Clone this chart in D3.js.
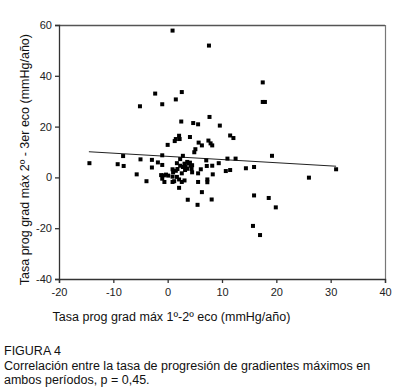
<!DOCTYPE html>
<html>
<head>
<meta charset="utf-8">
<script src="https://cdn.jsdelivr.net/npm/d3@7"></script>
<style>
  body { margin: 0; background: #fff; }
  svg text { font-family: Arial, "Liberation Sans", sans-serif; }
</style>
</head>
<body>
<svg id="chart" width="397" height="391"></svg>
<script>
// x: tasa 1º-2º eco, y: tasa 2º-3er eco (mmHg/año)
const xVals = [-14.4, -9.2, -8.1, -8.2, -5.7, -5.1, -5.0, -3.9, -2.3, -1.0, -2.9, -2.9, -1.8, -1.0, 0.0,
  -1.0, -1.2, -0.7, -0.3, 0.1, -1.0, -0.6, 0.9, 1.5, 2.6, 2.5, 4.7, 5.6, 7.7, 9.6, 11.5, 12.1, 2.1, 1.5,
  1.3, 2.2, 4.1, 5.7, 6.3, 7.5, 7.9, 8.2, 5.1, 4.9, 2.8, 2.3, 0.9, 1.7, 3.6, 3.9, 3.1, 4.2, 3.3, 2.8, 2.3,
  1.8, 1.5, 1.0, 3.2, 3.6, 4.4, 2.6, 0.9, 1.7, 2.1, 2.6, 1.2, 0.9, 2.1, 5.6, 5.6, 4.5, 4.1, 4.5, 7.2, 8.2,
  6.1, 7.1, 9.4, 10.7, 11.5, 11.0, 12.5, 14.4, 15.9, 8.3, 7.3, 7.3, 7.6, 17.5, 17.5, 17.9, 19.2, 31.0,
  26.0, 6.3, 8.1, 5.5, 3.7, 15.9, 18.6, 19.9, 15.7, 17.0, 3.1];
const yVals = [5.6, 5.2, 4.5, 8.4, 1.2, 28.0, 7.1, -1.5, 33.0, 28.8, 3.9, 6.9, 5.9, 8.7, 12.8, 4.9, 0.9,
  0.8, 1.1, 0.7, -0.5, -1.8, 57.8, 30.7, 33.6, 22.0, 21.4, 20.9, 23.8, 20.4, 16.5, 15.5, 16.4, 15.1, 14.3,
  15.1, 15.9, 13.7, 12.6, 14.5, 13.4, 12.6, 11.1, 9.9, 8.5, 7.2, 3.2, 5.6, 6.1, 5.6, 5.4, 4.6, 4.4, 4.1,
  4.6, 3.3, 2.6, 2.0, 2.9, 3.4, 3.3, 1.6, 0.3, 0.2, -0.8, -1.8, -1.5, -1.8, -4.1, -1.8, 1.6, 2.0, 5.8, 4.8,
  4.5, 4.6, 3.2, 6.7, 5.6, 2.5, 2.9, 7.4, 7.4, 3.6, 4.1, 1.2, -0.8, -1.9, 51.9, 37.4, 29.7, 29.7, 8.5, 3.2,
  -0.1, -5.8, -8.7, -10.8, -8.8, -7.1, -8.1, -11.8, -19.1, -22.7, -1.2];
const fitX = [-14.5, 31.0];
const fitY = [10.1, 4.4];

const xTicks = [-20, -10, 0, 10, 20, 30, 40];
const yTicks = [-40, -20, 0, 20, 40, 60];

const xTitle = "Tasa prog grad máx 1º-2º eco (mmHg/año)";
const yTitle = "Tasa prog grad máx 2º - 3er eco (mmHg/año)";
const caption = ["FIGURA 4",
  "Correlación entre la tasa de progresión de gradientes máximos en",
  "ambos períodos, p = 0,45."];

const svg = d3.select("#chart");
const margin = {top: 25, left: 59, right: 12, bottom: 112};
const W = 397 - margin.left - margin.right;
const H = 391 - margin.top - margin.bottom;

const x = d3.scaleLinear().domain([-20, 40]).range([0, W]);
const y = d3.scaleLinear().domain([-40, 60]).range([H, 0]);

const g = svg.append("g").attr("transform", `translate(${margin.left},${margin.top})`);

// frame top & right
g.append("line").attr("x1", 0).attr("x2", W).attr("y1", 0.5).attr("y2", 0.5)
  .attr("stroke", "#555").attr("stroke-width", 1.3);
g.append("line").attr("x1", W + 0.5).attr("x2", W + 0.5).attr("y1", 0).attr("y2", H)
  .attr("stroke", "#777").attr("stroke-width", 1.2);

const xAxis = g.append("g").attr("transform", `translate(0,${H})`)
  .call(d3.axisBottom(x).tickValues(xTicks).tickSize(4).tickFormat(d3.format("d")));
const yAxis = g.append("g")
  .call(d3.axisLeft(y).tickValues(yTicks).tickSize(4).tickFormat(d3.format("d")));

[xAxis, yAxis].forEach(a => {
  a.selectAll("path, line").attr("stroke", "#333").attr("stroke-width", 1.3);
  a.selectAll("text").attr("fill", "#222").attr("font-size", 11)
    .text(function() { return this.textContent.replace("−", "-"); });
});
xAxis.selectAll("text").attr("dy", "0.9em");

// fit line
const fit = fitX.map((v, i) => [v, fitY[i]]);
g.append("path").datum(fit)
  .attr("d", d3.line().x(d => x(d[0])).y(d => y(d[1])))
  .attr("stroke", "#222").attr("stroke-width", 1).attr("fill", "none");

// points
const pts = xVals.map((v, i) => ({x: v, y: yVals[i]}));
g.selectAll("rect.pt").data(pts).join("rect")
  .attr("class", "pt")
  .attr("x", d => x(d.x) - 2).attr("y", d => y(d.y) - 2)
  .attr("width", 4).attr("height", 4).attr("fill", "#000");

// titles
svg.append("text").attr("x", margin.left + W * 0.345).attr("y", 321)
  .attr("text-anchor", "middle").attr("font-size", 12.5).attr("fill", "#111").text(xTitle);
svg.append("text").attr("transform", `translate(29,${margin.top + H * 0.53}) rotate(-90)`)
  .attr("text-anchor", "middle").attr("font-size", 12.5).attr("fill", "#111").text(yTitle);

svg.selectAll("text.cap").data(caption).join("text")
  .attr("class", "cap")
  .attr("x", 4).attr("y", (d, i) => 355 + i * 14.5)
  .attr("font-size", 12.5).attr("fill", "#111").text(d => d);
</script>
</body>
</html>
